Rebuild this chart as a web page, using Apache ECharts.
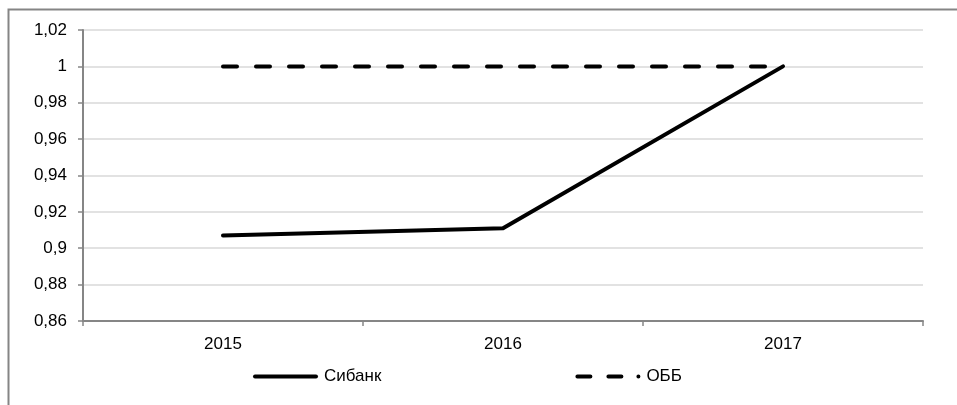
<!DOCTYPE html>
<html>
<head>
<meta charset="utf-8">
<script src="https://cdn.jsdelivr.net/npm/echarts@6/dist/echarts.min.js"></script>
<style>
  html, body { margin: 0; padding: 0; background: #fff; }
  #chart { width: 957px; height: 405px; }
</style>
</head>
<body>
<div id="chart"></div>
<script>
// Years on the category axis
const years = ['2015', '2016', '2017'];
// Series values
const sibankValues = [0.907, 0.911, 1];
const obbValues = [1, 1, 1];
// Value axis range
const yMin = 0.86;
const yMax = 1.02;
const yStep = 0.02;

const chart = echarts.init(document.getElementById('chart'), null, { renderer: 'canvas' });

const fontFamily = 'Liberation Sans, Arial, sans-serif';

// Legend keys: a solid rounded bar, and two rounded dashes followed by a dot
const solidKey = 'path://M2,0 H63 A2,2 0 0 1 63,4 H2 A2,2 0 0 1 2,0 Z';
const dashedKey = 'path://M2,0 H15 A2,2 0 0 1 15,4 H2 A2,2 0 0 1 2,0 Z ' +
  'M33,0 H46 A2,2 0 0 1 46,4 H33 A2,2 0 0 1 33,0 Z ' +
  'M61,2 A2,2 0 1 0 65,2 A2,2 0 1 0 61,2 Z';

chart.setOption({
  backgroundColor: '#ffffff',
  animation: false,
  graphic: [
    {
      // outer frame (left and top edges visible)
      type: 'rect',
      shape: { x: 8.5, y: 9.5, width: 2000, height: 2000 },
      style: { fill: 'none', stroke: '#858585', lineWidth: 2 },
      silent: true,
      z: -1
    }
  ],
  grid: { left: 83, right: 34, top: 30, bottom: 84, containLabel: false },
  legend: {
    left: 253,
    top: 368,
    padding: 0,
    itemWidth: 65,
    itemHeight: 4,
    itemGap: 194,
    textStyle: { fontFamily: fontFamily, fontSize: 17, color: '#000', padding: [0, 0, 0, 1] },
    data: [
      { name: 'Сибанк', icon: solidKey, itemStyle: { color: '#000' } },
      { name: 'ОББ', icon: dashedKey, itemStyle: { color: '#000' } }
    ]
  },
  xAxis: {
    type: 'category',
    data: years,
    boundaryGap: true,
    axisLine: { lineStyle: { color: '#868686', width: 2 } },
    axisTick: { show: true, length: 5, lineStyle: { color: '#868686', width: 1.5 } },
    axisLabel: { fontFamily: fontFamily, fontSize: 17, color: '#000', margin: 15 },
    splitLine: { show: false }
  },
  yAxis: {
    type: 'value',
    min: yMin,
    max: yMax,
    interval: yStep,
    axisLine: { show: true, lineStyle: { color: '#868686', width: 2 } },
    axisTick: { show: true, length: 5, lineStyle: { color: '#868686', width: 1.5 } },
    axisLabel: {
      fontFamily: fontFamily,
      fontSize: 17,
      color: '#000',
      margin: 16,
      formatter: v => String(Math.round(v * 100) / 100).replace('.', ',')
    },
    splitLine: { lineStyle: { color: '#d9d9d9', width: 1.5 } }
  },
  series: [
    {
      name: 'Сибанк',
      type: 'line',
      data: sibankValues,
      symbol: 'none',
      lineStyle: { color: '#000', width: 4, cap: 'round', join: 'round' },
      itemStyle: { color: '#000' },
      z: 3
    },
    {
      name: 'ОББ',
      type: 'line',
      data: obbValues,
      symbol: 'none',
      lineStyle: { color: '#000', width: 4, type: [14, 19], cap: 'round' },
      itemStyle: { color: '#000' },
      z: 2
    }
  ]
});
</script>
</body>
</html>
